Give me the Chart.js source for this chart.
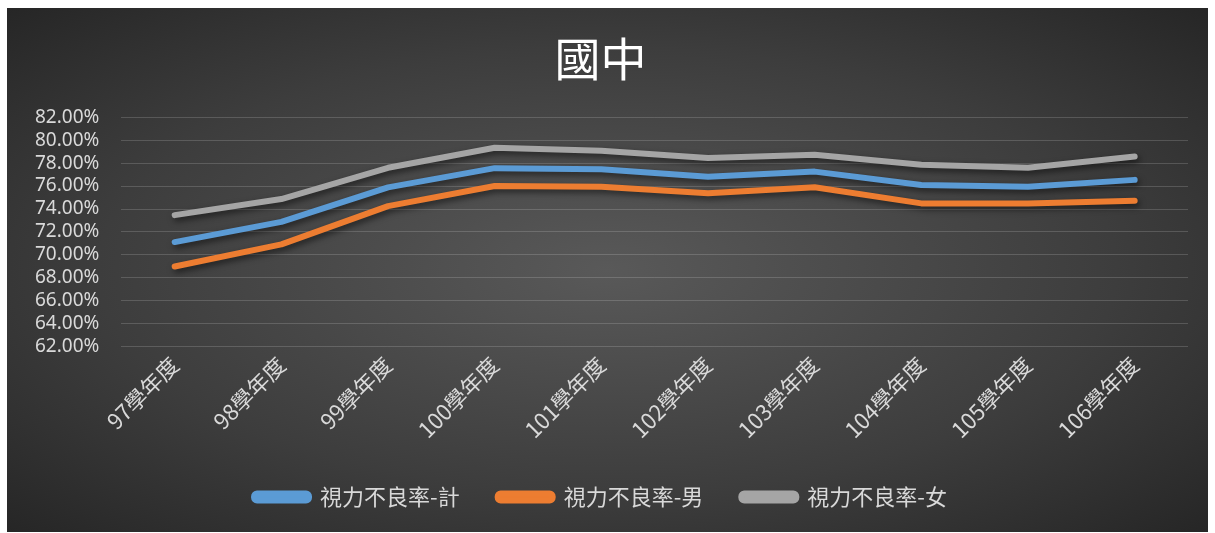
<!DOCTYPE html>
<html>
<head>
<meta charset="utf-8">
<script src="https://cdn.jsdelivr.net/npm/chart.js@4.4.0/dist/chart.umd.min.js"></script>
<style>
  html, body { margin: 0; padding: 0; background: #fff; }
  #wrap {
    position: absolute; left: 7px; top: 8px; width: 1201px; height: 524px;
    background: radial-gradient(ellipse at center, #595959 0%, #3d3d3d 60%, #262626 100%);
  }
</style>
</head>
<body>
<div id="wrap"><canvas id="mycanvas"></canvas></div>
<script>
var years = ["97學年度", "98學年度", "99學年度", "100學年度", "101學年度", "102學年度", "103學年度", "104學年度", "105學年度", "106學年度"];
var total  = [0.7112, 0.7288, 0.7589, 0.7756, 0.7747, 0.7682, 0.7726, 0.7610, 0.7595, 0.7654];
var male   = [0.6899, 0.7092, 0.7425, 0.7600, 0.7595, 0.7537, 0.7589, 0.7449, 0.7449, 0.7472];
var female = [0.7347, 0.7487, 0.7759, 0.7934, 0.7908, 0.7844, 0.7873, 0.7785, 0.7760, 0.7858];

var shadow = {
  id: 'shadow',
  beforeDatasetsDraw: function(chart) {
    var c = chart.ctx;
    c.save();
    c.shadowColor = 'rgba(0,0,0,0.55)';
    c.shadowBlur = 6;
    c.shadowOffsetX = 2;
    c.shadowOffsetY = 3;
  },
  afterDatasetsDraw: function(chart) {
    chart.ctx.restore();
  }
};

function series(label, color, data) {
  return {
    label: label,
    data: data,
    borderColor: color,
    backgroundColor: color,
    borderWidth: 6,
    borderCapStyle: 'round',
    borderJoinStyle: 'round',
    pointRadius: 0,
    tension: 0,
    fill: false
  };
}

var ctx = document.getElementById('mycanvas');
new Chart(ctx, {
  type: 'line',
  data: {
    labels: years,
    datasets: [
      series("視力不良率-計", "#5B9BD5", total),
      series("視力不良率-男", "#ED7D31", male),
      series("視力不良率-女", "#A5A5A5", female)
    ]
  },
  options: {
    responsive: true,
    maintainAspectRatio: false,
    animation: false,
    layout: { padding: { left: 6, right: 20, top: 10, bottom: 14 } },
    plugins: {
      title: {
        display: true,
        text: "國中",
        color: "#ffffff",
        font: { family: "'Noto Sans CJK TC'", size: 46, weight: 'normal', lineHeight: 1.2 },
        padding: { top: 13, bottom: 31 }
      },
      legend: {
        position: 'bottom',
        labels: {
          color: "#d9d9d9",
          font: { family: "'Noto Sans CJK TC'", size: 22 },
          boxWidth: 55,
          boxHeight: 7,
          useBorderRadius: true,
          borderRadius: 3,
          padding: 38
        }
      },
      tooltip: { enabled: false }
    },
    scales: {
      x: {
        offset: true,
        grid: { display: false, drawTicks: false },
        border: { display: false },
        ticks: {
          color: "#d9d9d9",
          font: { family: "'Noto Sans CJK TC'", size: 22 },
          minRotation: 45,
          maxRotation: 45,
          autoSkip: false,
          padding: 5
        }
      },
      y: {
        min: 0.62,
        max: 0.82,
        grid: { color: "rgba(255,255,255,0.16)", drawTicks: false },
        border: { display: false },
        ticks: {
          stepSize: 0.02,
          autoSkip: false,
          color: "#d9d9d9",
          font: { family: "'Noto Sans'", size: 19 },
          padding: 22,
          callback: function(v) { return (v * 100).toFixed(2) + "%"; }
        }
      }
    }
  },
  plugins: [shadow]
});
</script>
</body>
</html>
